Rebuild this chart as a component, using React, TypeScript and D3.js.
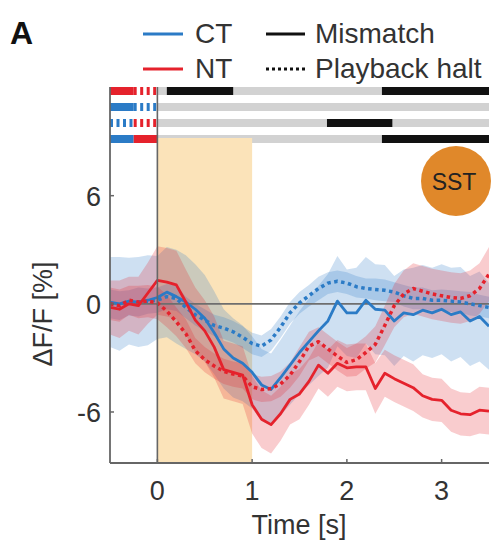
import React from 'react';
import * as d3 from 'd3';

// time base (s) and traces (dF/F %)
const time = [-0.5, -0.4, -0.3, -0.2, -0.1, 0, 0.1, 0.2, 0.3, 0.4, 0.5, 0.6, 0.7, 0.8, 0.9, 1.0,
  1.1, 1.2, 1.3, 1.4, 1.5, 1.6, 1.7, 1.8, 1.9, 2.0, 2.1, 2.2, 2.3, 2.4, 2.5, 2.6, 2.7, 2.8, 2.9, 3.0,
  3.1, 3.2, 3.3, 3.4, 3.5];

const ctMismatch = [0.1, 0.0, 0.15, 0.1, 0.2, 0.35, 0.65, 0.4, 0.1, -0.3, -0.8, -1.6, -2.5, -3.0, -3.3, -3.8,
  -4.5, -4.75, -4.1, -3.4, -2.7, -2.1, -1.5, -0.95, 0.15, -0.5, -0.5, 0.2, -0.3, -0.35, -0.95, -0.5, -0.6,
  -0.35, -0.5, -0.3, -0.6, -0.45, -0.95, -0.7, -1.25];
const ctMismatchSem = [2.5, 2.6, 2.4, 2.5, 2.5, 2.3, 2.5, 2.6, 2.6, 2.5, 2.4, 2.3, 2.2, 2.2, 2.1, 2.0,
  2.0, 2.0, 2.1, 2.2, 2.3, 2.4, 2.5, 2.6, 2.5, 2.4, 2.5, 2.4, 2.5, 2.5, 2.5, 2.4, 2.6, 2.5, 2.5, 2.5,
  2.6, 2.5, 2.5, 2.5, 2.4];

const ctHalt = [0.0, -0.1, 0.05, 0.1, 0.15, 0.2, 0.4, 0.3, -0.2, -0.6, -0.9, -1.2, -1.35, -1.55, -1.85, -2.2,
  -2.35, -2.0, -1.3, -0.5, 0.05, 0.45, 0.85, 1.15, 1.25, 1.15, 0.95, 0.85, 0.8, 0.75, 0.65, 0.45, 0.3,
  0.3, 0.2, 0.2, 0.15, 0.1, 0.0, -0.1, -0.2];
const ctHaltSem = [0.8, 0.8, 0.7, 0.8, 0.7, 0.7, 0.7, 0.7, 0.6, 0.6, 0.6, 0.6, 0.6, 0.6, 0.6, 0.6,
  0.6, 0.6, 0.6, 0.6, 0.6, 0.6, 0.65, 0.6, 0.6, 0.6, 0.6, 0.55, 0.6, 0.6, 0.55, 0.6, 0.6, 0.6, 0.55, 0.6,
  0.6, 0.6, 0.65, 0.6, 0.6];

const ntMismatch = [-0.2, -0.3, 0.0, -0.1, 0.6, 1.3, 1.2, 1.05, 0.1, -0.9, -1.5, -2.4, -3.65, -3.8, -3.95, -5.6,
  -6.4, -6.7, -6.1, -5.3, -5.0, -4.3, -3.4, -3.85, -3.3, -3.55, -3.5, -3.5, -4.7, -3.85, -4.15, -4.4, -4.65,
  -5.1, -5.3, -5.35, -5.9, -6.1, -6.15, -5.9, -5.95];
const ntMismatchSem = [1.5, 1.6, 1.5, 1.6, 1.7, 1.9, 1.9, 1.9, 1.8, 1.8, 1.7, 1.7, 1.6, 1.6, 1.6, 1.6,
  1.6, 1.6, 1.5, 1.4, 1.4, 1.3, 1.3, 1.3, 1.3, 1.3, 1.3, 1.3, 1.4, 1.3, 1.3, 1.3, 1.3, 1.2, 1.2, 1.2,
  1.2, 1.2, 1.2, 1.3, 1.3];

const ntHalt = [0.0, -0.1, 0.2, 0.1, 0.15, 0.05, -0.4, -1.0, -1.65, -2.6, -3.1, -3.45, -3.75, -3.9, -4.0, -4.6,
  -4.75, -4.7, -4.45, -3.95, -3.2, -2.35, -2.1, -2.5, -2.9, -3.25, -3.1, -2.7, -2.25, -1.2, -0.1, 0.55, 0.85,
  0.7, 0.55, 0.45, 0.35, 0.3, 0.45, 0.85, 1.65];
const ntHaltSem = [0.9, 0.9, 0.8, 0.9, 0.9, 0.9, 0.9, 0.8, 0.8, 0.7, 0.7, 0.7, 0.7, 0.7, 0.7, 0.7,
  0.7, 0.7, 0.7, 0.7, 0.8, 0.8, 0.8, 0.8, 0.8, 0.8, 0.9, 0.9, 1.0, 1.1, 1.2, 1.3, 1.4, 1.4, 1.4, 1.4,
  1.4, 1.4, 1.4, 1.4, 1.5];

const xTicks = [0, 1, 2, 3];
const yTicks = [-6, 0, 6];
const stimWindow = [0, 1];

// comparison rows above the traces: [left condition, right condition], significant windows (s)
const rowPairs = [['ntMis', 'ntHalt'], ['ctMis', 'ctHalt'], ['ctHalt', 'ntHalt'], ['ctMis', 'ntMis']];
const rowSig = [[[0.1, 0.8], [2.37, 3.5]], [], [[1.79, 2.48]], [[2.37, 3.5]]];

const BLUE = '#2b7bc6';
const RED = '#e5222c';
const FONT = 'Liberation Sans, Arial, sans-serif';

const condStyle: Record<string, { color: string; dashed: boolean }> = {
  ctMis: { color: BLUE, dashed: false },
  ctHalt: { color: BLUE, dashed: true },
  ntMis: { color: RED, dashed: false },
  ntHalt: { color: RED, dashed: true },
};

export default function App() {
  const left = 110, right = 489, top = 138, bottom = 463;
  const x = d3.scaleLinear().domain([-0.5, 3.5]).range([left, right]);
  const y = d3.scaleLinear().domain([-8.83, 9.2]).range([bottom, top]);
  const rowY = d3.scaleBand<number>().domain([0, 1, 2, 3]).range([87, 143]).paddingInner(0.5).paddingOuter(0);

  const traces = [
    { v: ctMismatch, s: ctMismatchSem, color: BLUE, dashed: false },
    { v: ctHalt, s: ctHaltSem, color: BLUE, dashed: true },
    { v: ntMismatch, s: ntMismatchSem, color: RED, dashed: false },
    { v: ntHalt, s: ntHaltSem, color: RED, dashed: true },
  ];

  const area = (v: number[], s: number[]) =>
    d3.area<number>().x((_, i) => x(time[i])).y0((d, i) => y(d - s[i])).y1((d, i) => y(d + s[i]))(v) || '';
  const line = (v: number[]) => d3.line<number>().x((_, i) => x(time[i])).y((d) => y(d))(v) || '';

  const mid = x(-0.25);
  const bh = rowY.bandwidth();

  return (
    <svg width={491} height={544} style={{ position: 'absolute', left: 0, top: 0, background: '#fff' }}
      fontFamily={FONT}>
      <defs>
        <clipPath id="plot"><rect x={left} y={top} width={right - left} height={bottom - top} /></clipPath>
      </defs>

      <text x={10} y={44} fontSize={32} fontWeight="bold" fill="#111">A</text>

      {/* legend */}
      <line x1={143} x2={183} y1={34} y2={34} stroke={BLUE} strokeWidth={3} />
      <text x={195} y={43} fontSize={28} fill="#333">CT</text>
      <line x1={143} x2={183} y1={69} y2={69} stroke={RED} strokeWidth={3} />
      <text x={195} y={78} fontSize={28} fill="#333">NT</text>
      <line x1={266} x2={305} y1={34} y2={34} stroke="#111" strokeWidth={3} />
      <text x={315} y={43} fontSize={28} fill="#333">Mismatch</text>
      <line x1={266} x2={305} y1={69} y2={69} stroke="#111" strokeWidth={3} strokeDasharray="3,3" />
      <text x={315} y={78} fontSize={28} fill="#333">Playback halt</text>

      {/* comparison rows */}
      {rowPairs.map((pair, r) => {
        const yy = (rowY(r) || 0) + bh / 2;
        return (
          <g key={r}>
            <line x1={x(0)} x2={right} y1={yy} y2={yy} stroke="#d2d2d2" strokeWidth={bh} />
            {rowSig[r].map((s, k) => (
              <line key={k} x1={x(s[0])} x2={x(s[1])} y1={yy} y2={yy} stroke="#111" strokeWidth={bh} />
            ))}
            {pair.map((c, k) => {
              const st = condStyle[c];
              return (
                <line key={c + k} x1={k === 0 ? left : mid} x2={k === 0 ? mid : x(0)} y1={yy} y2={yy}
                  stroke={st.color} strokeWidth={bh} strokeDasharray={st.dashed ? '3,3.5' : undefined} />
              );
            })}
          </g>
        );
      })}

      {/* stimulus window */}
      <rect x={x(stimWindow[0])} y={top} width={x(stimWindow[1]) - x(stimWindow[0])} height={bottom - top}
        fill="#fbe3b9" />

      <g clipPath="url(#plot)">
        {traces.map((t, i) => (
          <path key={'a' + i} d={area(t.v, t.s)} fill={t.color} fillOpacity={0.23} />
        ))}
        <line x1={left} x2={right} y1={y(0)} y2={y(0)} stroke="#6e6e6e" strokeWidth={1.6} />
        {traces.map((t, i) => (
          <path key={'l' + i} d={line(t.v)} fill="none" stroke={t.color}
            strokeWidth={t.dashed ? 3.5 : 2.8} strokeDasharray={t.dashed ? '3.5,3.5' : undefined}
            strokeLinejoin="round" />
        ))}
      </g>

      <line x1={x(0)} x2={x(0)} y1={87} y2={bottom} stroke="#666" strokeWidth={1.6} />

      {/* SST badge */}
      <circle cx={456} cy={181} r={35} fill="#e0882a" />
      <text x={454} y={190} fontSize={23} textAnchor="middle" fill="#222">SST</text>

      {/* axes */}
      <line x1={left} x2={left} y1={87} y2={bottom} stroke="#666" strokeWidth={1.8} />
      <line x1={left} x2={right} y1={bottom} y2={bottom} stroke="#666" strokeWidth={1.8} />
      {yTicks.map((t) => (
        <g key={t}>
          <line x1={left} x2={left + 4} y1={y(t)} y2={y(t)} stroke="#666" strokeWidth={1.5} />
          <text x={left - 9} y={y(t) + 10} fontSize={27} textAnchor="end" fill="#333">{t}</text>
        </g>
      ))}
      {xTicks.map((t) => (
        <g key={t}>
          <line x1={x(t)} x2={x(t)} y1={bottom} y2={bottom - 4} stroke="#666" strokeWidth={1.5} />
          <text x={x(t)} y={500} fontSize={27} textAnchor="middle" fill="#333">{t}</text>
        </g>
      ))}
      <text x={299} y={534} fontSize={27} textAnchor="middle" fill="#333">Time [s]</text>
      <text transform="translate(52,314) rotate(-90)" fontSize={27} textAnchor="middle" fill="#333">ΔF/F [%]</text>
    </svg>
  );
}
